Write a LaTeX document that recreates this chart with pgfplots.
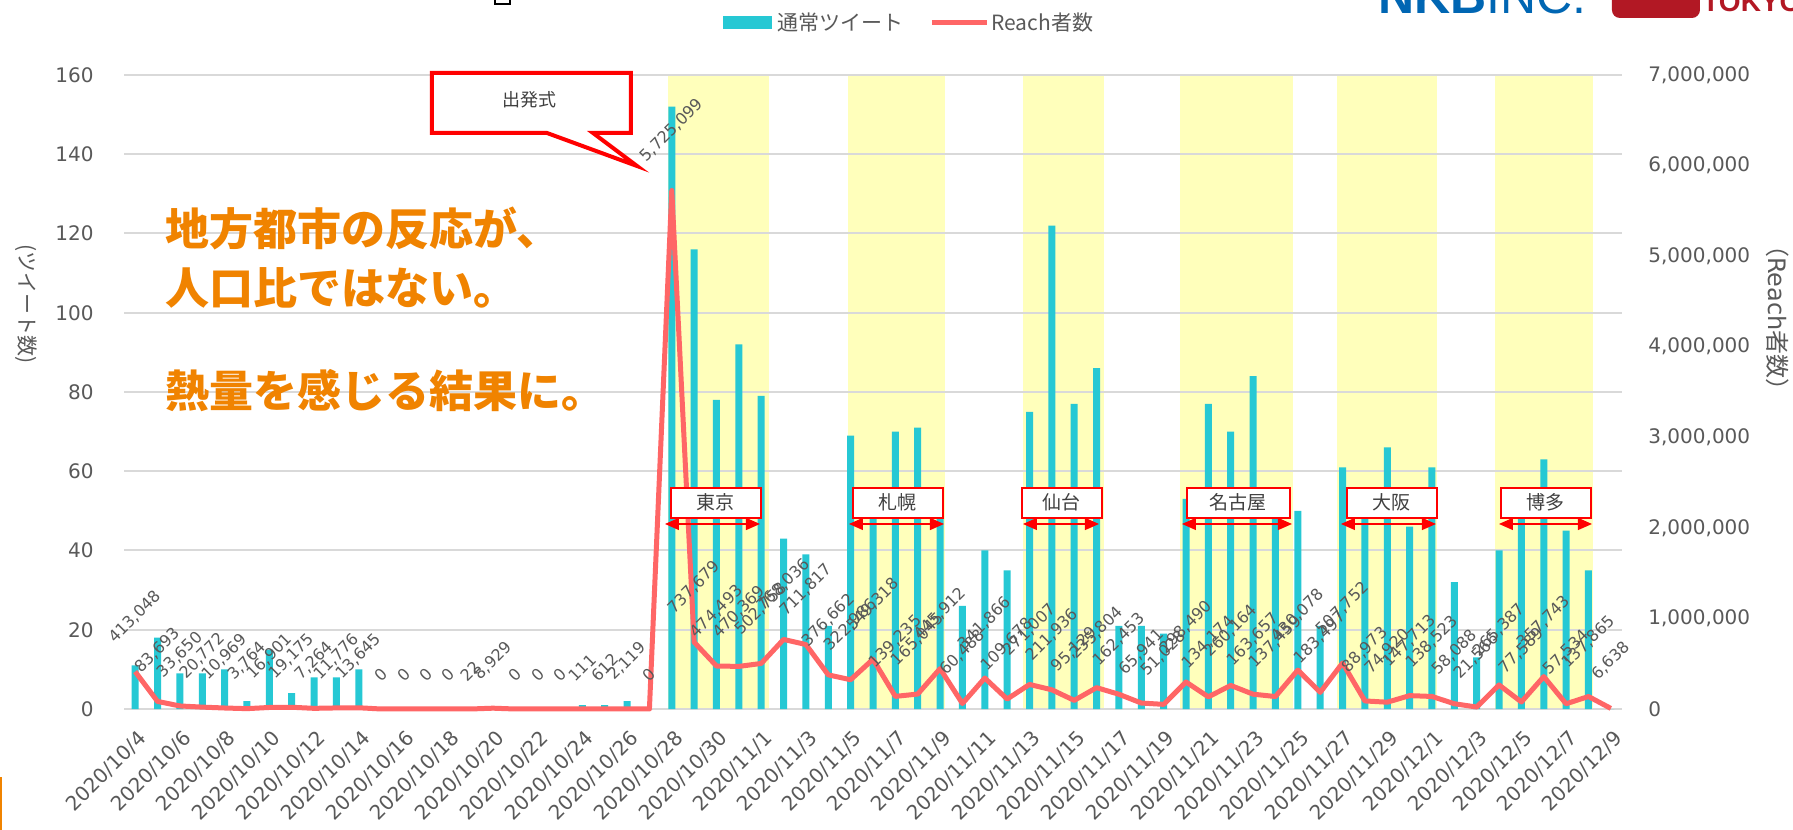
\documentclass[border=0pt]{standalone}
\usepackage{fontspec}
\setmainfont{DejaVu Sans}
\newfontfamily\cjk{Noto Sans CJK JP}
\newfontfamily\lib{Liberation Sans}
\usepackage{graphicx}
\usepackage{pgfplots}
\usepackage{pgfplotstable}
\pgfplotsset{compat=1.18}
\usetikzlibrary{arrows.meta}

\definecolor{barc}{RGB}{38,200,212}
\definecolor{linec}{RGB}{255,102,102}
\definecolor{band}{RGB}{255,255,187}
\definecolor{txt}{RGB}{89,89,89}
\definecolor{boxtxt}{RGB}{64,64,64}
\definecolor{gridc}{RGB}{217,217,217}
\definecolor{orangec}{RGB}{240,131,0}
\definecolor{logoblue}{RGB}{0,102,179}
\definecolor{logored}{RGB}{178,24,36}

\pgfplotstableread{
x bar reach lab
0 11 413048 413,048
1 18 83693 83,693
2 9 33650 33,650
3 9 20772 20,772
4 10 10969 10,969
5 2 3764 3,764
6 15 16901 16,901
7 4 19175 19,175
8 8 7264 7,264
9 8 11776 11,776
10 10 13645 13,645
11 0 0 0
12 0 0 0
13 0 0 0
14 0 0 0
15 0 22 22
16 0 8929 8,929
17 0 0 0
18 0 0 0
19 0 0 0
20 1 111 111
21 1 612 612
22 2 2119 2,119
23 0 0 0
24 152 5725099 5,725,099
25 116 737679 737,679
26 78 474493 474,493
27 92 470369 470,369
28 79 502758 502,758
29 43 768036 768,036
30 39 711817 711,817
31 21 376662 376,662
32 69 322986 322,986
33 53 549318 549,318
34 70 139235 139,235
35 71 165045 165,045
36 50 445912 445,912
37 26 60488 60,488
38 40 341866 341,866
39 35 109678 109,678
40 75 271007 271,007
41 122 211936 211,936
42 77 95129 95,129
43 86 235804 235,804
44 21 162453 162,453
45 21 65941 65,941
46 19 51028 51,028
47 53 298490 298,490
48 77 134174 134,174
49 70 260164 260,164
50 84 163657 163,657
51 52 137459 137,459
52 50 430078 430,078
53 21 183497 183,497
54 61 507752 507,752
55 54 88973 88,973
56 66 74920 74,920
57 46 147713 147,713
58 61 138523 138,523
59 32 58088 58,088
60 13 21566 21,566
61 40 265387 265,387
62 52 77589 77,589
63 63 357743 357,743
64 45 57534 57,534
65 35 137865 137,865
66 0 6638 6,638
}\data

\pgfplotsset{
  base/.style={at={(62bp,60.5bp)}, anchor=south west, scale only axis,
    width=749bp, height=317bp, xmin=-0.5, xmax=66.5,
    /pgf/number format/assume math mode=true},
}

\begin{document}
\begin{tikzpicture}
\useasboundingbox (0,0) rectangle (896.5bp,415bp);
\clip (0,0) rectangle (896.5bp,415bp);
\fill[white] (0,0) rectangle (896.5bp,415bp);

% yellow bands
\begin{axis}[base, ymin=0, ymax=160, hide axis]
\fill[band] (axis cs:23.82,0) rectangle (axis cs:28.33,160);
\fill[band] (axis cs:31.86,0) rectangle (axis cs:36.20,160);
\fill[band] (axis cs:39.73,0) rectangle (axis cs:43.35,160);
\fill[band] (axis cs:46.75,0) rectangle (axis cs:51.80,160);
\fill[band] (axis cs:53.76,0) rectangle (axis cs:58.23,160);
\fill[band] (axis cs:60.82,0) rectangle (axis cs:65.20,160);
\end{axis}

% bars, left axis
\begin{axis}[base, ymin=0, ymax=160, ytick={0,20,...,160},
  ymajorgrids, grid style={gridc, line width=1bp},
  axis line style={draw=none}, tick style={draw=none},
  xtick={0,2,...,66},
  xticklabels={2020/10/4,2020/10/6,2020/10/8,2020/10/10,2020/10/12,2020/10/14,2020/10/16,2020/10/18,2020/10/20,2020/10/22,2020/10/24,2020/10/26,2020/10/28,2020/10/30,2020/11/1,2020/11/3,2020/11/5,2020/11/7,2020/11/9,2020/11/11,2020/11/13,2020/11/15,2020/11/17,2020/11/19,2020/11/21,2020/11/23,2020/11/25,2020/11/27,2020/11/29,2020/12/1,2020/12/3,2020/12/5,2020/12/7,2020/12/9},
  xticklabel style={xshift=4bp, yshift=-13bp, rotate=45, anchor=east, inner sep=0pt, text=txt, font=\fontsize{10bp}{12bp}\selectfont},
  yticklabel style={anchor=east, inner sep=0pt, xshift=-15bp, text=txt, font=\fontsize{10bp}{12bp}\selectfont},
]
\addplot[ybar, bar width=3.5bp, fill=barc, draw=none] table[x=x, y=bar] {\data};
\end{axis}

% reach line, right axis
\begin{axis}[base, ymin=0, ymax=7000000, clip=false,
  axis x line=none, axis y line*=right,
  axis line style={draw=none}, tick style={draw=none},
  scaled y ticks=false,
  ytick={0,1000000,2000000,3000000,4000000,5000000,6000000,7000000},
  yticklabels={0,{1,000,000},{2,000,000},{3,000,000},{4,000,000},{5,000,000},{6,000,000},{7,000,000}},
  yticklabel style={anchor=west, inner sep=0pt, xshift=13bp, text=txt, font=\fontsize{10bp}{12bp}\selectfont},
]
\addplot[linec, line width=2.5bp, line join=round, mark=none,
  point meta=explicit symbolic,
  nodes near coords={\rotatebox{45}{\pgfplotspointmeta}},
  nodes near coords style={anchor=south, inner sep=0pt, yshift=12bp, text=txt, font=\fontsize{8bp}{9bp}\selectfont}]
  table[x=x, y=reach, meta=lab] {\data};
\end{axis}

% annotations in image-pixel coordinates
\begin{scope}[x=0.5bp, y=-0.5bp, yshift=415bp]
% legend
\fill[barc] (723,16) rectangle (772,29);
\node[anchor=west, inner sep=0pt, text=txt, font=\cjk\fontsize{10.5bp}{12bp}\selectfont] at (777,22.5) {通常ツイート};
\draw[linec, line width=2.5bp] (932,22.5) -- (987,22.5);
\node[anchor=west, inner sep=0pt, text=txt, font=\cjk\fontsize{10.5bp}{12bp}\selectfont] at (991,22.5) {Reach者数};
% axis titles
\node[rotate=-90, inner sep=0pt, text=txt, font=\cjk\fontsize{10.5bp}{12bp}\selectfont] at (26,304) {(ツイート数)};
\node[rotate=-90, inner sep=0pt, text=txt, font=\cjk\fontsize{12bp}{14bp}\selectfont] at (1778,318) {（{\fontspec{DejaVu Sans}Reach}者数）};
% orange message
\node[anchor=west, inner sep=0pt, text=orangec, font=\cjk\bfseries\fontsize{22bp}{26bp}\selectfont] at (165,229) {地方都市の反応が、};
\node[anchor=west, inner sep=0pt, text=orangec, font=\cjk\bfseries\fontsize{22bp}{26bp}\selectfont] at (165,288) {人口比ではない。};
\node[anchor=west, inner sep=0pt, text=orangec, font=\cjk\bfseries\fontsize{22bp}{26bp}\selectfont] at (165,391) {熱量を感じる結果に。};
% callout
\draw[red, line width=2bp, fill=white, line join=miter] (432,73) -- (631,73) -- (631,133) -- (593,133) -- (637,166) -- (547,133) -- (432,133) -- cycle;
\node[inner sep=0pt, text=boxtxt, font=\cjk\fontsize{9bp}{10bp}\selectfont] at (530,100) {出発式};
% city boxes
\foreach \a/\b/\c/\d/\t in {671/761/665/760/東京, 853/943/849/944/札幌, 1022/1102/1023/1099/仙台, 1187/1290/1182/1292/名古屋, 1347/1437/1341/1436/大阪, 1501/1591/1499/1592/博多}{
  \draw[red, line width=1bp, fill=white] (\a,488) rectangle (\b,518);
  \node[inner sep=0pt, text=boxtxt, font=\cjk\fontsize{9.5bp}{11bp}\selectfont] at ({(\a+\b)/2},502) {\t};
  \draw[red, line width=0.7bp, {Triangle[length=7bp,width=6bp]}-{Triangle[length=7bp,width=6bp]}] (\c,524) -- (\d,524);
}
% logos and marks at the top
\node[anchor=base west, inner sep=0pt, text=logoblue, font=\lib\fontsize{25bp}{28bp}\selectfont] at (1378,14) {\bfseries NKB\mdseries INC.};
\fill[logored, rounded corners=4bp] (1612,-20) rectangle (1700,18);
\node[anchor=base west, inner sep=0pt, text=logored, font=\lib\bfseries\fontsize{14bp}{16bp}\selectfont] at (1702,12) {TOKYO};
\draw[black, line width=1bp] (495,-2) -- (495,4) -- (510,4) -- (510,-2);
\fill[orangec] (0,777) rectangle (2,830);
\end{scope}
\end{tikzpicture}
\end{document}
